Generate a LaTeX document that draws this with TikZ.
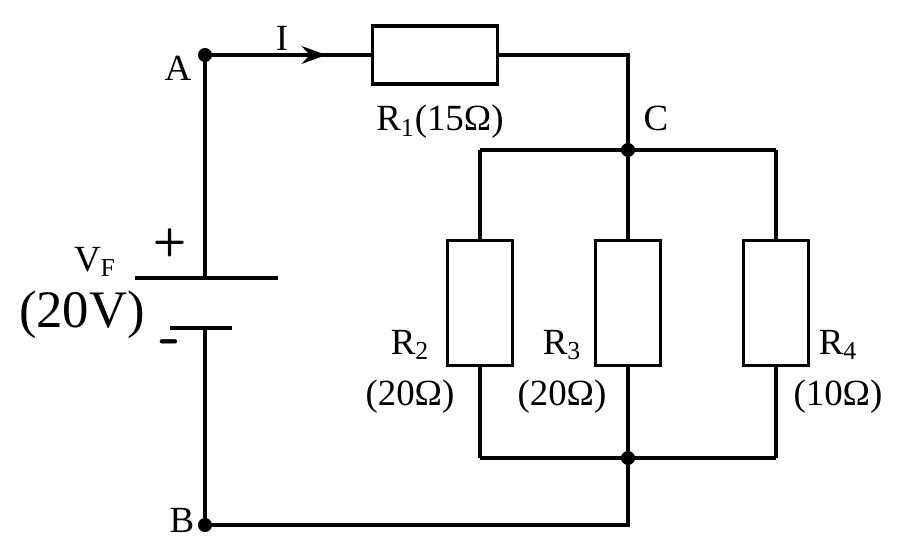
\documentclass[tikz,border=0pt]{standalone}
\usepackage{fontspec}
\setmainfont{Liberation Serif}
\usetikzlibrary{positioning,arrows.meta,decorations.markings}
\tikzstyle{wire} = [line width=2pt]
\tikzstyle{res} = [draw,line width=2pt,rectangle,inner sep=0pt]
\tikzstyle{dot} = [circle,fill=black,inner sep=0pt,minimum size=8pt]
\tikzstyle{lbl} = [font=\fontsize{21}{23}\selectfont]
\begin{document}
\begin{tikzpicture}[x=0.02cm,y=-0.02cm]
\useasboundingbox (0,0) rectangle (900,553);
% junctions
\node[dot] (A) at (205,55) {};
\node[dot] (B) at (205,525) {};
\node[dot] (C) at (628,150) {};
\node[dot] (D) at (628,458) {};
\coordinate (ctr) at (628,55);
\coordinate (br) at (628,525);
\coordinate (tl) at (480,150);
\coordinate (tr) at (776,150);
\coordinate (bl) at (480,458);
\coordinate (brr) at (776,458);
% resistors
\node[res,minimum width=125*0.02cm,minimum height=58*0.02cm] (R1) at (435,55) {};
\node[res,minimum width=65*0.02cm,minimum height=125*0.02cm] (R2) at (480,303) {};
\node[res,minimum width=65*0.02cm,minimum height=125*0.02cm] (R3) at (628,303) {};
\node[res,minimum width=65*0.02cm,minimum height=125*0.02cm] (R4) at (776,303) {};
% battery
\coordinate (pl) at (135,278); \coordinate (pr) at (278,278);
\coordinate (ml) at (170,328); \coordinate (mr) at (232,328);
\draw[wire] (pl) -- (pr);
\draw[wire] (ml) -- (mr);
% wires
\draw[wire,postaction={decorate},decoration={markings,mark=at position 0.72 with {\arrow{Stealth[length=14pt,width=10pt]}}}] (A) -- (R1.west);
\draw[wire] (R1.east) -- (ctr) -- (C);
\draw[wire] (tl) -- (tr);
\draw[wire] (tl) -- (R2.north); \draw[wire] (C) -- (R3.north); \draw[wire] (tr) -- (R4.north);
\draw[wire] (R2.south) -- (bl); \draw[wire] (R3.south) -- (D); \draw[wire] (R4.south) -- (brr);
\draw[wire] (bl) -- (brr);
\draw[wire] (D) -- (br) -- (B);
\draw[wire] (A) -- (205,278);
\draw[wire] (205,328) -- (B);
% labels
\node[lbl] at (178,68) {A};
\node[lbl] at (182,520) {B};
\node[lbl] at (656,118) {C};
\node[lbl] at (282,38) {I};
\node[lbl] at (440,122) {R\textsubscript{1}(15Ω)};
\node[lbl] at (410,345) {R\textsubscript{2}};
\node[lbl] at (410,397) {(20Ω)};
\node[lbl] at (562,345) {R\textsubscript{3}};
\node[lbl] at (562,397) {(20Ω)};
\node[lbl] at (838,345) {R\textsubscript{4}};
\node[lbl] at (838,397) {(10Ω)};
\node[lbl] at (95,262) {V\textsubscript{F}};
\node[font=\fontsize{30}{32}\selectfont] at (82,315) {(20V)};
\node[font=\fontsize{22}{24}\selectfont\bfseries\sffamily] at (170,243) {+};
\node[font=\fontsize{34}{36}\selectfont\bfseries\sffamily] at (170,348) {-};
\end{tikzpicture}
\end{document}
